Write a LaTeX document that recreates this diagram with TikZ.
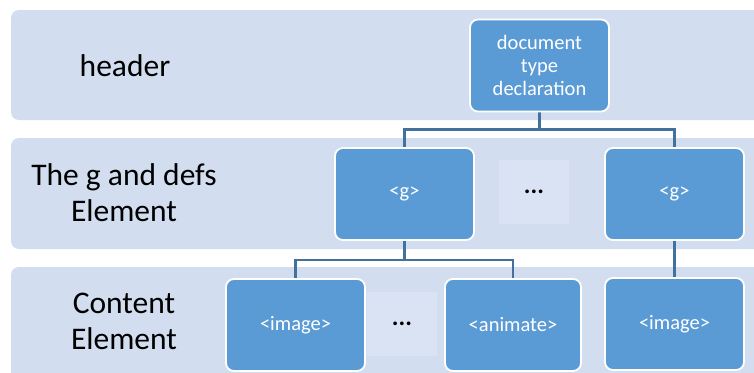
\documentclass[tikz,border=0pt]{standalone}
\usepackage{fontspec}
\setmainfont{Carlito}
\usetikzlibrary{backgrounds}
\definecolor{bandfill}{RGB}{210,222,239}
\definecolor{boxfill}{RGB}{91,155,213}
\definecolor{gapfill}{RGB}{218,227,243}
\definecolor{linkcol}{RGB}{65,113,156}
\tikzset{
  band/.style={fill=bandfill, rounded corners=8pt},
  label/.style={align=center, font=\fontsize{31.5}{36}\selectfont, text=black},
  elem/.style={draw=white, line width=1.8pt, fill=boxfill, rounded corners=8pt,
    minimum width=139pt, minimum height=92pt, align=center, inner sep=2pt,
    text=white, font=\fontsize{20.5}{23}\selectfont},
  gap/.style={fill=gapfill, minimum width=70pt, minimum height=64pt,
    font=\bfseries\fontsize{25}{28}\selectfont, text=black},
  link/.style={draw=linkcol, line width=2.5pt}
}
\begin{document}
\begin{tikzpicture}[x=1pt,y=-1pt]
\useasboundingbox (0,0) rectangle (754,372);
\clip (0,0) rectangle (754,372);

% white page and horizontal bands, kept behind everything else
\begin{scope}[on background layer]
  \fill[white] (0,0) rectangle (754,372);
  \path[band] (11,10) rectangle (780,120);
  \path[band] (11,138) rectangle (780,249);
  \path[band] (11,267) rectangle (780,400);
\end{scope}

% band labels
\node[label] (lhead) at (125,66) {header};
\node[label] (lgdefs) at (124,193) {The g and defs\\Element};
\node[label] (lcontent) at (124,321) {Content\\Element};

% ellipsis placeholders
\node[gap] (dots1) at (534,191.5) {...};
\node[gap] (dots2) at (402,323.5) {...};

% element boxes
\node[elem] (doc) at (539.5,65.5) {document\\type\\declaration};
\node[elem] (g1) at (404.5,194) {<g>};
\node[elem] (g2) at (674.5,194) {<g>};
\node[elem] (img1) at (295.5,325) {<image>};
\node[elem, minimum width=136pt] (anim) at (513,325) {<animate>};
\node[elem] (img2) at (674.5,324) {<image>};

% tree connectors, passing under the boxes' white borders
\begin{scope}[on background layer]
  \draw[link] (doc.south) -- ++(0,17) coordinate (j1) -| (g1.north);
  \draw[link] (j1) -| (g2.north);
  \draw[link] (g1.south) -- ++(0,19) coordinate (j2) -| (img1.north);
  \draw[link] (j2) -| (anim.north);
  \draw[link] (g2.south) -- (img2.north);
\end{scope}
\end{tikzpicture}
\end{document}
